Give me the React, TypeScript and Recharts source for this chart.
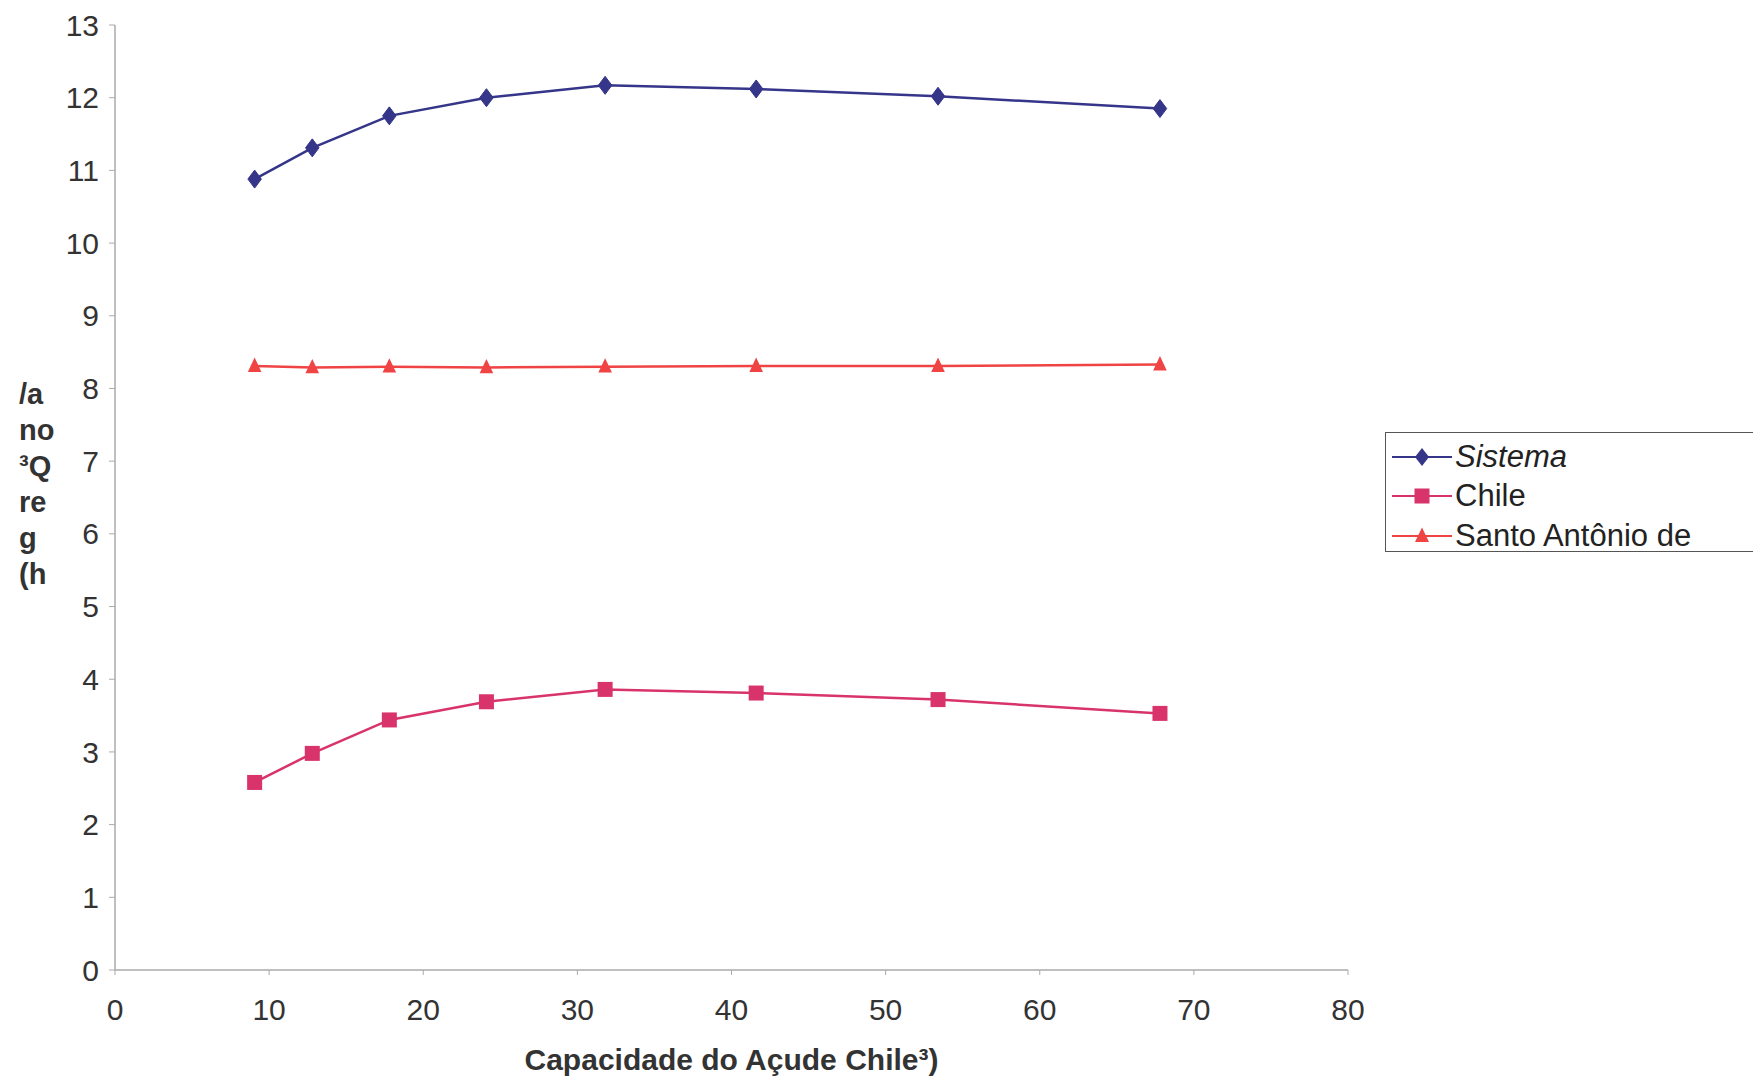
import React from "react";
import { LineChart, Line, XAxis, YAxis, Legend } from "recharts";

const capacities = [9.06, 12.8, 17.8, 24.1, 31.8, 41.6, 53.4, 67.8];
const sistema = [10.88, 11.31, 11.75, 12.0, 12.17, 12.12, 12.02, 11.85];
const chile = [2.58, 2.98, 3.44, 3.69, 3.86, 3.81, 3.72, 3.53];
const santo = [8.31, 8.29, 8.3, 8.29, 8.3, 8.31, 8.31, 8.33];
const xTicks = [0, 10, 20, 30, 40, 50, 60, 70, 80];
const yTicks = [0, 1, 2, 3, 4, 5, 6, 7, 8, 9, 10, 11, 12, 13];
const seriesNames = ["Sistema", "Chile", "Santo Antônio de"];
const yLabelLines = ["/a", "no", "³Q", "re", "g", "(h"];
const xLabel = "Capacidade do Açude Chile³)";

const data = capacities.map((c, i) => ({
  cap: c,
  sistema: sistema[i],
  chile: chile[i],
  santo: santo[i],
}));

const C_SIS = "#35358a";
const C_CHI = "#d8336b";
const C_SAN = "#f04343";
const FONT = "'Liberation Sans', Arial, sans-serif";

const Diamond = (props: any) => {
  const { cx, cy, index } = props;
  if (cx == null || cy == null) return <g key={`d${index}`} />;
  const r = 9;
  return (
    <polygon
      key={`d${index}`}
      points={`${cx},${cy - r} ${cx + r * 0.75},${cy} ${cx},${cy + r} ${cx - r * 0.75},${cy}`}
      fill={C_SIS}
      stroke={C_SIS}
    />
  );
};
const Square = (props: any) => {
  const { cx, cy, index } = props;
  if (cx == null || cy == null) return <g key={`s${index}`} />;
  const r = 7.5;
  return <rect key={`s${index}`} x={cx - r} y={cy - r} width={2 * r} height={2 * r} fill={C_CHI} />;
};
const Triangle = (props: any) => {
  const { cx, cy, index } = props;
  if (cx == null || cy == null) return <g key={`t${index}`} />;
  const r = 8.5;
  return (
    <polygon
      key={`t${index}`}
      points={`${cx},${cy - r} ${cx + r * 0.8},${cy + r * 0.7} ${cx - r * 0.8},${cy + r * 0.7}`}
      fill={C_SAN}
    />
  );
};

const markers = [
  (x: number, y: number) => (
    <polygon points={`${x},${y - 9} ${x + 7},${y} ${x},${y + 9} ${x - 7},${y}`} fill={C_SIS} />
  ),
  (x: number, y: number) => <rect x={x - 7.5} y={y - 7.5} width={15} height={15} fill={C_CHI} />,
  (x: number, y: number) => (
    <polygon points={`${x},${y - 8.5} ${x + 7},${y + 6} ${x - 7},${y + 6}`} fill={C_SAN} />
  ),
];
const colors = [C_SIS, C_CHI, C_SAN];

const LegendBox = () => (
  <div
    style={{
      border: "1.5px solid #555",
      width: 400,
      height: 120,
      boxSizing: "border-box",
      paddingTop: 4,
      fontFamily: FONT,
      background: "#fff",
      textAlign: "left",
    }}
  >
    {seriesNames.map((n, i) => (
      <div key={n} style={{ display: "flex", alignItems: "center", height: 39.5 }}>
        <svg width={64} height={30} style={{ marginLeft: 4 }}>
          <line x1={2} y1={15} x2={62} y2={15} stroke={colors[i]} strokeWidth={2} />
          {markers[i](32, 15)}
        </svg>
        <span
          style={{
            fontSize: 31,
            color: "#222",
            fontStyle: i === 0 ? "italic" : "normal",
            marginLeft: 1,
          }}
        >
          {n}
        </span>
      </div>
    ))}
  </div>
);

const YLabel = () => (
  <text x={19} y={394} fontFamily={FONT} fontWeight="bold" fontSize={29} fill="#333">
    {yLabelLines.map((l, i) => (
      <tspan key={i} x={19} y={404 + i * 36}>
        {l}
      </tspan>
    ))}
  </text>
);

export default function App() {
  return (
    <div style={{ position: "absolute", left: 0, top: 0, background: "#fff" }}>
      <LineChart
        width={1753}
        height={1080}
        data={data}
        margin={{ top: 25, right: 405, bottom: 0, left: 55 }}
      >
        <XAxis
          dataKey="cap"
          type="number"
          domain={[0, 80]}
          ticks={xTicks}
          interval={0}
          axisLine={{ stroke: "#aaa", strokeWidth: 1.5 }}
          tickLine={{ stroke: "#aaa" }}
          tickSize={5}
          tickMargin={24}
          tick={{ fill: "#333", fontSize: 30, fontFamily: FONT }}
          height={110}
          label={{
            value: xLabel,
            position: "insideBottom",
            offset: 10,
            style: { fontWeight: "bold", fontSize: 30, fill: "#333", fontFamily: FONT },
          }}
        />
        <YAxis
          type="number"
          domain={[0, 13]}
          ticks={yTicks}
          interval={0}
          width={60}
          axisLine={{ stroke: "#aaa", strokeWidth: 1.5 }}
          tickLine={{ stroke: "#aaa" }}
          tickSize={6}
          tickMargin={10}
          tick={{ fill: "#333", fontSize: 30, fontFamily: FONT }}
          label={{ content: () => <YLabel /> }}
        />
        <Legend
          layout="horizontal"
          verticalAlign="middle"
          align="center"
          content={() => <LegendBox />}
          wrapperStyle={{ left: 1385, top: 432, width: 400, right: "auto", bottom: "auto" }}
        />
        <Line
          dataKey="sistema"
          name="Sistema"
          stroke={C_SIS}
          strokeWidth={2.5}
          dot={Diamond}
          isAnimationActive={false}
        />
        <Line
          dataKey="chile"
          name="Chile"
          stroke={C_CHI}
          strokeWidth={2.5}
          dot={Square}
          isAnimationActive={false}
        />
        <Line
          dataKey="santo"
          name="Santo Antônio de"
          stroke={C_SAN}
          strokeWidth={2.5}
          dot={Triangle}
          isAnimationActive={false}
        />
      </LineChart>
    </div>
  );
}
